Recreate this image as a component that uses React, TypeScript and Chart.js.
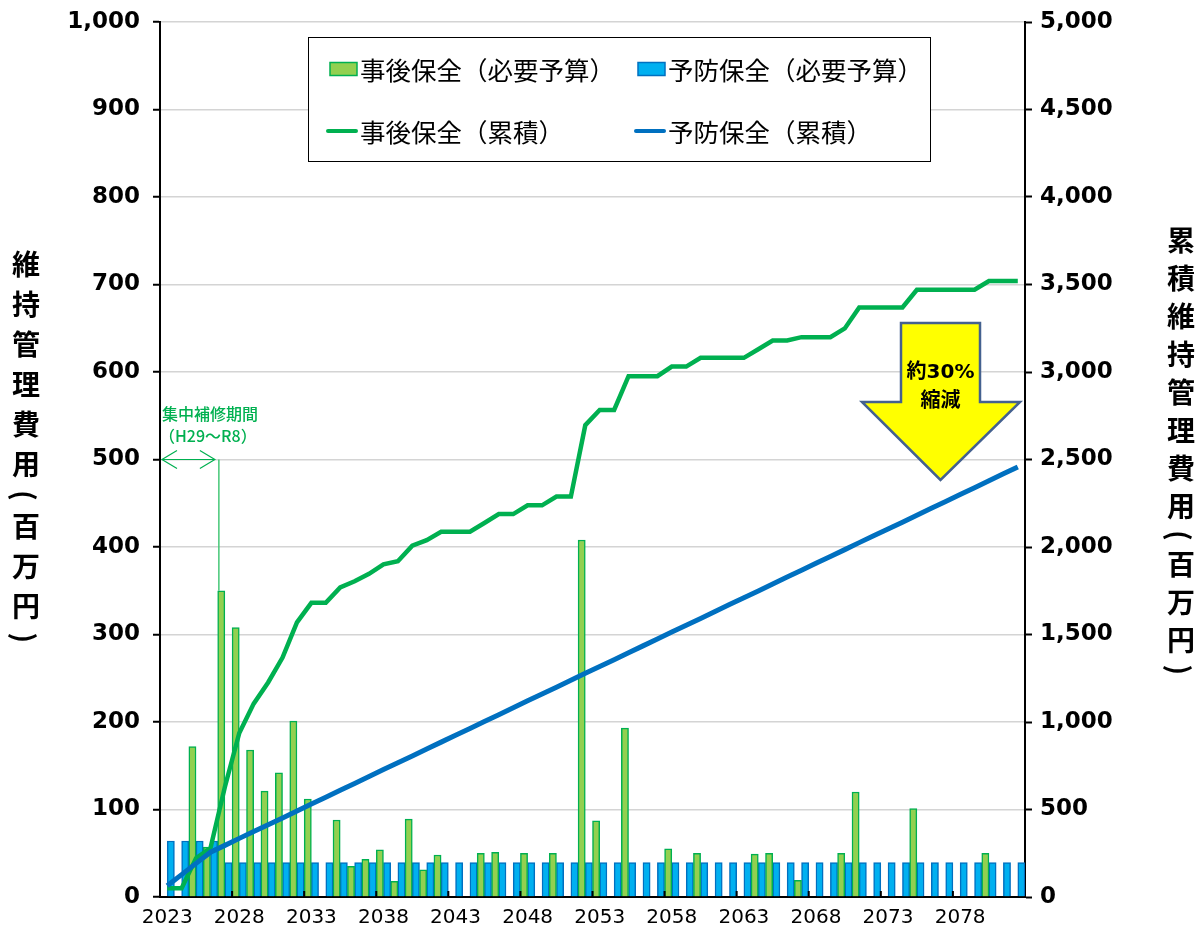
import { useEffect, useRef } from "react";
import { Chart, registerables } from "chart.js";

Chart.register(...registerables);

// Fiscal years on the category axis
const years = [
  "2023", "2024", "2025", "2026", "2027", "2028", "2029", "2030", "2031", "2032",
  "2033", "2034", "2035", "2036", "2037", "2038", "2039", "2040", "2041", "2042",
  "2043", "2044", "2045", "2046", "2047", "2048", "2049", "2050", "2051", "2052",
  "2053", "2054", "2055", "2056", "2057", "2058", "2059", "2060", "2061", "2062",
  "2063", "2064", "2065", "2066", "2067", "2068", "2069", "2070", "2071", "2072",
  "2073", "2074", "2075", "2076", "2077", "2078", "2079", "2080", "2081", "2082",
];

// Years that carry a visible tick label
const labeledYears = ["2023", "2028", "2033", "2038", "2043", "2048", "2053", "2058", "2063", "2068", "2073", "2078"];

// 事後保全 yearly budget (百万円)
const reactiveBudget = [
  0, 0, 172, 57, 350, 308, 168, 121, 142, 201,
  112, 0, 88, 35, 43, 54, 18, 89, 31, 48,
  0, 0, 50, 51, 0, 50, 0, 50, 0, 408,
  87, 0, 193, 0, 0, 55, 0, 50, 0, 0,
  0, 49, 50, 0, 19, 0, 0, 50, 120, 0,
  0, 0, 101, 0, 0, 0, 0, 50, 0, 0,
];

// 予防保全 yearly budget (百万円)
const preventiveBudget = [
  64, 64, 64, 64, 39.3, 39.3, 39.3, 39.3, 39.3, 39.3,
  39.3, 39.3, 39.3, 39.3, 39.3, 39.3, 39.3, 39.3, 39.3, 39.3,
  39.3, 39.3, 39.3, 39.3, 39.3, 39.3, 39.3, 39.3, 39.3, 39.3,
  39.3, 39.3, 39.3, 39.3, 39.3, 39.3, 39.3, 39.3, 39.3, 39.3,
  39.3, 39.3, 39.3, 39.3, 39.3, 39.3, 39.3, 39.3, 39.3, 39.3,
  39.3, 39.3, 39.3, 39.3, 39.3, 39.3, 39.3, 39.3, 39.3, 39.3,
];

// 事後保全 running total (百万円)
const reactiveTotal = [
  50, 50, 222, 279, 629, 937, 1105, 1226, 1368, 1569,
  1681, 1681, 1769, 1804, 1847, 1901, 1919, 2008, 2039, 2087,
  2087, 2087, 2137, 2188, 2188, 2238, 2238, 2288, 2288, 2696,
  2783, 2783, 2976, 2976, 2976, 3031, 3031, 3081, 3081, 3081,
  3081, 3130, 3180, 3180, 3199, 3199, 3199, 3249, 3369, 3369,
  3369, 3369, 3470, 3470, 3470, 3470, 3470, 3520, 3520, 3520,
];

// 予防保全 running total (百万円)
const preventiveTotal = [
  64, 128, 192, 256, 295, 335, 374, 413, 452, 492,
  531, 570, 610, 649, 688, 728, 767, 806, 846, 885,
  924, 963, 1003, 1042, 1081, 1121, 1160, 1199, 1239, 1278,
  1317, 1356, 1396, 1435, 1474, 1514, 1553, 1592, 1632, 1671,
  1710, 1749, 1789, 1828, 1867, 1907, 1946, 1985, 2025, 2064,
  2103, 2142, 2182, 2221, 2260, 2300, 2339, 2378, 2418, 2457,
];

// Last year of the intensive repair period (H29〜R8)
const focusEndYear = "2027";
const focusLevel = 500;

const FONT_NUM = '"DejaVu Sans", "Noto Sans CJK JP", sans-serif';
const FONT_JP = '"Noto Sans CJK JP", "Noto Sans", sans-serif';

const GREEN = "#00B050";
const GREEN_FILL = "#92D050";
const BLUE = "#0070C0";
const BLUE_FILL = "#00B0F0";

// Boxed two-column legend inside the plot
const boxLegend = {
  id: "boxLegend",
  afterDraw(chart: any) {
    const ctx = chart.ctx;
    const ds = chart.data.datasets;
    const bx = 308, by = 37, bw = 622, bh = 124;
    ctx.save();
    ctx.fillStyle = "#fff";
    ctx.fillRect(bx, by, bw, bh);
    ctx.strokeStyle = "#000";
    ctx.lineWidth = 1;
    ctx.strokeRect(bx + 0.5, by + 0.5, bw, bh);
    const cols = [330, 638];
    const rows = [69, 131];
    const slots = [
      { d: ds[0], c: 0, r: 0, kind: "bar" },
      { d: ds[1], c: 1, r: 0, kind: "bar" },
      { d: ds[2], c: 0, r: 1, kind: "line" },
      { d: ds[3], c: 1, r: 1, kind: "line" },
    ];
    ctx.font = `400 25.5px ${FONT_JP}`;
    ctx.textBaseline = "middle";
    ctx.textAlign = "left";
    for (const s of slots) {
      const x = cols[s.c];
      const y = rows[s.r];
      if (s.kind === "bar") {
        ctx.fillStyle = s.d.backgroundColor;
        ctx.fillRect(x, y - 6.5, 27, 13);
        ctx.strokeStyle = s.d.borderColor;
        ctx.lineWidth = 1.5;
        ctx.strokeRect(x, y - 6.5, 27, 13);
      } else {
        ctx.strokeStyle = s.d.borderColor;
        ctx.lineWidth = 4;
        ctx.lineCap = "round";
        ctx.beginPath();
        ctx.moveTo(x - 2, y);
        ctx.lineTo(x + 26, y);
        ctx.stroke();
      }
      ctx.fillStyle = "#000";
      ctx.fillText(s.d.label, x + 30, y + 1);
    }
    ctx.restore();
  },
};

// Category-axis tick marks every five years, the focus-period bracket and the reduction arrow
const notes = {
  id: "notes",
  afterDatasetsDraw(chart: any) {
    const { ctx, chartArea, scales } = chart;
    const xs = scales.x;
    const ys = scales.y;
    ctx.save();

    // inner tick marks on the year axis
    ctx.strokeStyle = "#000";
    ctx.lineWidth = 2;
    for (let k = 5; k < years.length; k += 5) {
      const px = (xs.getPixelForValue(k - 1) + xs.getPixelForValue(k)) / 2;
      ctx.beginPath();
      ctx.moveTo(px, chartArea.bottom);
      ctx.lineTo(px, chartArea.bottom - 6);
      ctx.stroke();
    }

    // intensive repair period bracket
    const idx = years.indexOf(focusEndYear);
    const bar = chart.getDatasetMeta(0).data[idx];
    const vx = bar.x - bar.width / 2 + 1.2;
    const hy = ys.getPixelForValue(focusLevel);
    ctx.strokeStyle = "#45C777";
    ctx.lineWidth = 1.5;
    ctx.beginPath();
    ctx.moveTo(vx, hy);
    ctx.lineTo(vx, bar.y);
    ctx.stroke();

    const ax0 = chartArea.left + 2;
    const ax1 = vx - 4;
    ctx.strokeStyle = GREEN;
    ctx.lineWidth = 1.2;
    ctx.beginPath();
    ctx.moveTo(ax0, hy);
    ctx.lineTo(ax1, hy);
    ctx.moveTo(ax0 + 15, hy - 9);
    ctx.lineTo(ax0, hy);
    ctx.lineTo(ax0 + 15, hy + 9);
    ctx.moveTo(ax1 - 15, hy - 9);
    ctx.lineTo(ax1, hy);
    ctx.lineTo(ax1 - 15, hy + 9);
    ctx.stroke();

    ctx.fillStyle = GREEN;
    ctx.font = `500 16px ${FONT_JP}`;
    ctx.textAlign = "left";
    ctx.textBaseline = "middle";
    ctx.fillText("集中補修期間", chartArea.left + 2, hy - 46);
    ctx.fillText("（H29～R8）", chartArea.left - 1, hy - 24);

    // reduction arrow
    const cx = 940.5;
    ctx.beginPath();
    ctx.moveTo(901, 323);
    ctx.lineTo(980, 323);
    ctx.lineTo(980, 402);
    ctx.lineTo(1020, 402);
    ctx.lineTo(cx, 480);
    ctx.lineTo(862, 402);
    ctx.lineTo(901, 402);
    ctx.closePath();
    ctx.fillStyle = "#FFFF00";
    ctx.fill();
    ctx.strokeStyle = "#44618F";
    ctx.lineWidth = 2.5;
    ctx.lineJoin = "miter";
    ctx.stroke();

    ctx.fillStyle = "#000";
    ctx.textAlign = "center";
    ctx.font = `700 20px ${FONT_NUM}`;
    ctx.fillText("約30%", cx, 373);
    ctx.font = `700 20px ${FONT_JP}`;
    ctx.fillText("縮減", cx, 399);

    ctx.restore();
  },
};

export default function App() {
  const canvasRef = useRef<HTMLCanvasElement>(null);

  useEffect(() => {
    const canvas = canvasRef.current;
    if (!canvas) return;
    const chart = new Chart(canvas, {
      type: "bar",
      data: {
        labels: years,
        datasets: [
          {
            type: "bar",
            label: "事後保全（必要予算）",
            data: reactiveBudget,
            backgroundColor: GREEN_FILL,
            borderColor: GREEN,
            borderWidth: 1.5,
            barPercentage: 1,
            categoryPercentage: 1,
            yAxisID: "y",
            order: 2,
          },
          {
            type: "bar",
            label: "予防保全（必要予算）",
            data: preventiveBudget,
            backgroundColor: BLUE_FILL,
            borderColor: BLUE,
            borderWidth: 1.5,
            barPercentage: 1,
            categoryPercentage: 1,
            yAxisID: "y",
            order: 3,
          },
          {
            type: "line",
            label: "事後保全（累積）",
            data: reactiveTotal,
            borderColor: GREEN,
            backgroundColor: GREEN,
            borderWidth: 4.5,
            pointRadius: 0,
            tension: 0,
            yAxisID: "y1",
            order: 1,
          },
          {
            type: "line",
            label: "予防保全（累積）",
            data: preventiveTotal,
            borderColor: BLUE,
            backgroundColor: BLUE,
            borderWidth: 5,
            pointRadius: 0,
            tension: 0,
            yAxisID: "y1",
            order: 0,
          },
        ],
      } as any,
      options: {
        responsive: false,
        animation: false,
        layout: { padding: { top: 22, left: 0, right: 0, bottom: 0 } },
        plugins: {
          legend: { display: false },
          tooltip: { enabled: false },
        },
        scales: {
          x: {
            type: "category",
            offset: true,
            grid: { display: false, drawTicks: false },
            border: { display: true, color: "#000", width: 2 },
            ticks: {
              autoSkip: false,
              maxRotation: 0,
              minRotation: 0,
              padding: 9,
              color: "#000",
              font: { family: FONT_NUM, size: 20 },
              callback(this: any, v: any) {
                const l = this.getLabelForValue(v);
                return labeledYears.includes(l) ? l : "";
              },
            },
            afterFit(s: any) {
              s.height = 32;
            },
          },
          y: {
            position: "left",
            min: 0,
            max: 1000,
            ticks: {
              stepSize: 100,
              padding: 13,
              color: "#000",
              font: { family: FONT_NUM, size: 23, weight: "bold" },
              callback: (v: any) => Number(v).toLocaleString("en-US"),
            },
            grid: { color: "#D4D4D4", lineWidth: 1.5, tickColor: "#000", tickLength: 7, tickWidth: 2 },
            border: { display: true, color: "#000", width: 2 },
            afterFit(s: any) {
              s.width = 160;
              s.paddingTop = 0;
              s.paddingBottom = 0;
            },
          },
          y1: {
            position: "right",
            min: 0,
            max: 5000,
            ticks: {
              stepSize: 500,
              padding: 8,
              color: "#000",
              font: { family: FONT_NUM, size: 23, weight: "bold" },
              callback: (v: any) => Number(v).toLocaleString("en-US"),
            },
            grid: { drawOnChartArea: false, tickColor: "#000", tickLength: 7, tickWidth: 2 },
            border: { display: true, color: "#000", width: 2 },
            afterFit(s: any) {
              s.width = 179;
              s.paddingTop = 0;
              s.paddingBottom = 0;
            },
          },
        },
      } as any,
      plugins: [notes, boxLegend],
    });
    return () => chart.destroy();
  }, []);

  const titleBase: any = {
    position: "absolute",
    writingMode: "vertical-rl",
    fontFamily: FONT_JP,
    fontWeight: 700,
    fontSize: 28,
    lineHeight: "28px",
    color: "#000",
    whiteSpace: "nowrap",
  };

  return (
    <div style={{ position: "absolute", left: 0, top: 0, width: 1204, height: 929, background: "#fff" }}>
      <canvas ref={canvasRef} width={1204} height={929} style={{ display: "block", width: 1204, height: 929 }} />
      <div style={{ ...titleBase, left: 12, top: 250, letterSpacing: "12px" }}>維持管理費用(百万円)</div>
      <div style={{ ...titleBase, left: 1167, top: 226, letterSpacing: "10px" }}>累積維持管理費用(百万円)</div>
    </div>
  );
}
